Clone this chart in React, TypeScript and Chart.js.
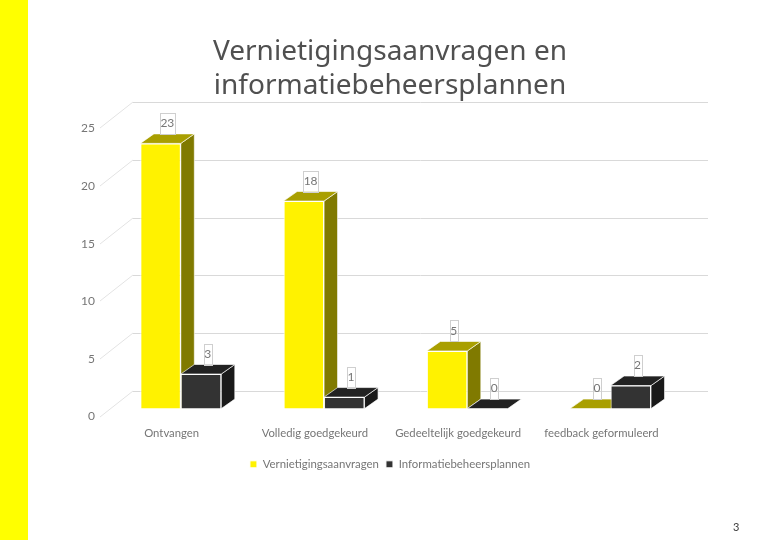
import React, { useEffect, useRef } from "react";
import { Chart, registerables } from "chart.js";

Chart.register(...registerables);

const categories = ["Ontvangen", "Volledig goedgekeurd", "Gedeeltelijk goedgekeurd", "feedback geformuleerd"];
const vernietigingsaanvragen = [23, 18, 5, 0];
const informatiebeheersplannen = [3, 1, 0, 2];
const titleLines = ["Vernietigingsaanvragen en", "informatiebeheersplannen"];
const yTicks = [0, 5, 10, 15, 20, 25];

const FONT = "Lato, 'Open Sans', sans-serif";
const TEXT = "#767676";
const SHIFT = { x: 9.2, y: -8 };
const DEPTH = { x: 13.5, y: -9.5 };
const WALL = { x: 33, y: -26 };
const FACES = [
  { side: "#807A00", top: "#A99F00" },
  { side: "#1A1A1A", top: "#222222" },
];

function poly(ctx: CanvasRenderingContext2D, pts: number[][], fill: string) {
  ctx.beginPath();
  pts.forEach((p, i) => (i ? ctx.lineTo(p[0], p[1]) : ctx.moveTo(p[0], p[1])));
  ctx.closePath();
  ctx.fillStyle = fill;
  ctx.fill();
  ctx.strokeStyle = "rgba(255,255,255,0.8)";
  ctx.lineWidth = 0.8;
  ctx.stroke();
}

const wallPlugin = {
  id: "wall",
  beforeDatasetsDraw(chart: any) {
    const { ctx, scales } = chart;
    const y = scales.y;
    const x = scales.x;
    ctx.save();
    ctx.lineWidth = 1;
    y.ticks.forEach((t: any) => {
      const py = Math.round(y.getPixelForValue(t.value));
      ctx.strokeStyle = "#E3E3E3";
      ctx.beginPath();
      ctx.moveTo(x.left, py);
      ctx.lineTo(x.left + WALL.x, py + WALL.y);
      ctx.stroke();
      ctx.strokeStyle = "#D9D9D9";
      ctx.beginPath();
      ctx.moveTo(x.left + WALL.x, py + WALL.y + 0.5);
      ctx.lineTo(x.right + 35, py + WALL.y + 0.5);
      ctx.stroke();
    });
    ctx.restore();
  },
};

const bar3dPlugin = {
  id: "bar3d",
  // All side and top faces go down first, left series first, so the fronts cover them correctly.
  beforeDatasetsDraw(chart: any) {
    const { ctx } = chart;
    ctx.save();
    ctx.translate(SHIFT.x, SHIFT.y);
    chart.data.datasets.forEach((_: any, i: number) => {
      const face = FACES[i];
      chart.getDatasetMeta(i).data.forEach((el: any) => {
        const l = el.x - el.width / 2;
        const r = el.x + el.width / 2;
        const t = el.y;
        const b = el.base;
        if (b - t > 0.5) {
          poly(ctx, [[r, t], [r + DEPTH.x, t + DEPTH.y], [r + DEPTH.x, b + DEPTH.y], [r, b]], face.side);
        }
        poly(ctx, [[l, t], [l + DEPTH.x, t + DEPTH.y], [r + DEPTH.x, t + DEPTH.y], [r, t]], face.top);
      });
    });
    ctx.restore();
  },
  beforeDatasetDraw(chart: any) {
    chart.ctx.save();
    chart.ctx.translate(SHIFT.x, SHIFT.y);
  },
  afterDatasetDraw(chart: any) {
    chart.ctx.restore();
  },
  afterDatasetsDraw(chart: any) {
    const { ctx } = chart;
    ctx.save();
    ctx.font = `12px ${FONT}`;
    ctx.textAlign = "center";
    ctx.textBaseline = "middle";
    chart.data.datasets.forEach((ds: any, i: number) => {
      chart.getDatasetMeta(i).data.forEach((el: any, j: number) => {
        const text = String(ds.data[j]);
        const w = ctx.measureText(text).width + 1;
        const cx = el.x + SHIFT.x + DEPTH.x / 2;
        const bottom = el.y + SHIFT.y + DEPTH.y;
        ctx.strokeStyle = "#CFCFCF";
        ctx.lineWidth = 1;
        ctx.strokeRect(Math.round(cx - w / 2) + 0.5, Math.round(bottom - 21) + 0.5, Math.round(w), 21);
        ctx.fillStyle = TEXT;
        ctx.fillText(text, cx, bottom - 10.5);
      });
    });
    ctx.restore();
  },
};

export default function App() {
  const ref = useRef<HTMLCanvasElement>(null);
  useEffect(() => {
    const chart = new Chart(ref.current!, {
      type: "bar",
      data: {
        labels: categories,
        datasets: [
          {
            label: "Vernietigingsaanvragen",
            data: vernietigingsaanvragen,
            backgroundColor: "#FFF200",
            borderColor: "#FFFFFF",
            borderWidth: 1,
            clip: false,
          },
          {
            label: "Informatiebeheersplannen",
            data: informatiebeheersplannen,
            backgroundColor: "#333333",
            borderColor: "#FFFFFF",
            borderWidth: 1,
            clip: false,
          },
        ] as any,
      },
      plugins: [wallPlugin, bar3dPlugin],
      options: {
        responsive: false,
        animation: false,
        categoryPercentage: 0.565,
        barPercentage: 1,
        layout: { padding: { top: 35, bottom: 60, left: 0, right: 0 } },
        plugins: {
          title: {
            display: true,
            text: titleLines,
            color: "#505050",
            font: { family: "'Noto Sans', sans-serif", size: 28, weight: "normal", lineHeight: 1.22 },
            padding: { top: 0, bottom: 25 },
          },
          legend: {
            position: "bottom",
            labels: {
              color: TEXT,
              font: { family: FONT, size: 11.4 },
              boxWidth: 7,
              boxHeight: 7,
              padding: 7,
            },
          },
          tooltip: { enabled: false },
        },
        scales: {
          x: {
            grid: { display: false, drawTicks: false },
            border: { display: false },
            ticks: { color: TEXT, font: { family: FONT, size: 11.3 }, padding: 10, maxRotation: 0 },
            afterFit: (s: any) => {
              s.height = 35;
            },
          },
          y: {
            min: 0,
            max: 25,
            afterBuildTicks: (s: any) => {
              s.ticks = yTicks.map((value) => ({ value }));
            },
            grid: { display: false, drawTicks: false },
            border: { display: false },
            ticks: { color: TEXT, font: { family: FONT, size: 12 }, padding: 5 },
            afterFit: (s: any) => {
              s.width = 100;
            },
          },
          pad: {
            position: "right",
            display: true,
            grid: { display: false },
            border: { display: false },
            ticks: { display: false },
            afterFit: (s: any) => {
              s.width = 107;
            },
          },
        },
      } as any,
    });
    return () => chart.destroy();
  }, []);

  return (
    <div style={{ position: "absolute", left: 0, top: 0, width: 780, height: 540, background: "#fff", overflow: "hidden" }}>
      <div style={{ position: "absolute", left: 0, top: 0, width: 28, height: 540, background: "#FFFF00" }} />
      <canvas ref={ref} width={780} height={540} style={{ position: "absolute", left: 0, top: 0, display: "block" }} />
      <div style={{ position: "absolute", left: 733, top: 520, font: `11px ${FONT}`, color: "#404040" }}>3</div>
    </div>
  );
}
